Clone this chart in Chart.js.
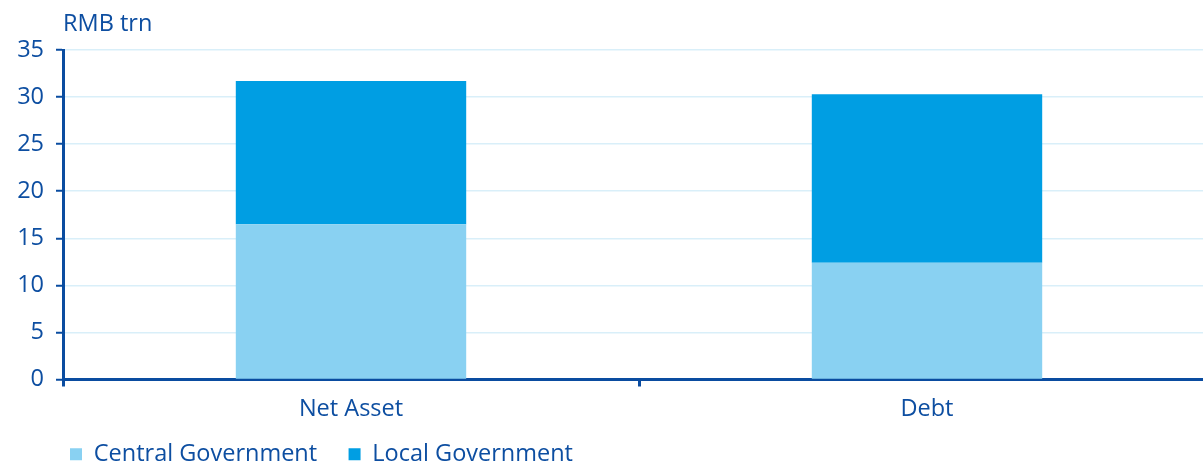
<!DOCTYPE html>
<html>
<head>
<meta charset="utf-8">
<script src="https://cdn.jsdelivr.net/npm/chart.js@4/dist/chart.umd.min.js"></script>
<style>
  html, body { margin: 0; padding: 0; background: #fff; overflow: hidden; }
  #wrap { position: relative; width: 1220px; height: 476px; }
</style>
</head>
<body>
<div id="wrap"><canvas id="c"></canvas></div>
<script>
const categories = ['Net Asset', 'Debt'];
const centralGov = [16.5, 12.4];
const localGov = [15.2, 17.9];
const seriesNames = ['Central Government', 'Local Government'];
const yTicks = [0, 5, 10, 15, 20, 25, 30, 35];
const unitLabel = 'RMB trn';

const TEXT = '#0d4ea1';
const AXIS = '#0a4ca0';
const GRID = '#d9eff9';
const FONT = '"Open Sans", "Noto Sans", sans-serif';
const FSIZE = 23.5;

const unitPlugin = {
  id: 'unitLabel',
  afterDraw(chart) {
    const ctx = chart.ctx;
    ctx.save();
    ctx.font = '500 ' + FSIZE + 'px ' + FONT;
    ctx.fillStyle = TEXT;
    ctx.textAlign = 'left';
    ctx.textBaseline = 'alphabetic';
    ctx.fillText(unitLabel, chart.chartArea.left, 31);
    ctx.restore();
  }
};

new Chart(document.getElementById('c'), {
  type: 'bar',
  data: {
    labels: categories,
    datasets: [
      { label: seriesNames[0], data: centralGov, backgroundColor: '#89d1f2', borderWidth: 0 },
      { label: seriesNames[1], data: localGov, backgroundColor: '#009ee3', borderWidth: 0 }
    ]
  },
  options: {
    responsive: true,
    maintainAspectRatio: false,
    animation: false,
    layout: { padding: { top: 50, right: 5, left: 0, bottom: 0 } },
    datasets: { bar: { categoryPercentage: 1, barPercentage: 0.4 } },
    plugins: {
      tooltip: { enabled: false },
      legend: {
        position: 'bottom',
        align: 'start',
        fullSize: false,
        labels: {
          boxWidth: 12,
          boxHeight: 12,
          padding: 7,
          color: TEXT,
          font: { family: FONT, size: FSIZE, weight: 500, lineHeight: 1 },
          generateLabels(chart) {
            const items = Chart.defaults.plugins.legend.labels.generateLabels(chart);
            items.forEach((it, i) => { if (i === 0) it.text = it.text + '    '; });
            return items;
          }
        }
      }
    },
    scales: {
      x: {
        stacked: true,
        offset: true,
        afterFit(s) { s.height = 56; },
        grid: { drawOnChartArea: false, offset: true, tickLength: 7, tickColor: AXIS, tickWidth: 3 },
        border: { color: AXIS, width: 3 },
        ticks: { color: TEXT, font: { family: FONT, size: FSIZE, weight: 500 }, padding: 9 }
      },
      y: {
        stacked: true,
        min: 0,
        max: 35,
        afterFit(s) { s.width = 63; },
        afterBuildTicks(s) { s.ticks = yTicks.map(v => ({ value: v })); },
        grid: { color: GRID, lineWidth: 1.5, tickLength: 7, tickColor: AXIS, tickWidth: 2 },
        border: { color: AXIS, width: 3 },
        ticks: { color: TEXT, font: { family: FONT, size: FSIZE, weight: 500 }, padding: 12 }
      }
    }
  },
  plugins: [unitPlugin]
});
</script>
</body>
</html>
